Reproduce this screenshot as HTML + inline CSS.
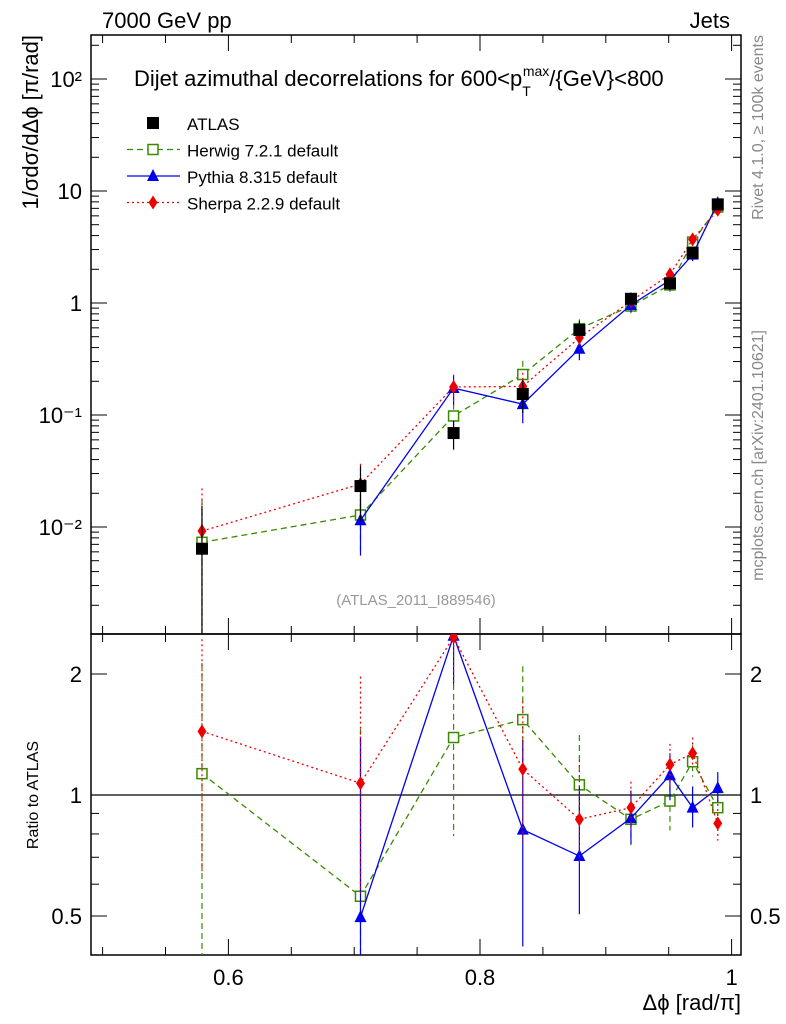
<!DOCTYPE html>
<html><head><meta charset="utf-8"><style>
html,body{margin:0;padding:0;background:#fff;overflow:hidden;width:786px;height:1024px;}
svg{display:block;font-family:"Liberation Sans",sans-serif;}
</style></head><body>
<svg id="c" width="786" height="1024" xmlns="http://www.w3.org/2000/svg"></svg>
<script>
const xs=[0.579,0.705,0.779,0.834,0.879,0.92,0.951,0.969,0.989];
const atlas=[0.0064,0.0232,0.069,0.154,0.574,1.09,1.5,2.8,7.6];
const atlasErr=[0.009,0.012,0.02,0.05,0.12,0.15,0.2,0.35,0.8];
const herwig=[0.0073,0.0128,0.098,0.23,0.59,0.94,1.45,3.5,7.2];
const pythia=[null,0.0115,0.174,0.125,0.39,0.96,1.6,2.7,7.8];
const sherpa=[0.0092,0.0242,0.178,0.18,0.49,1.04,1.8,3.7,6.8];
const herwigRatio=[1.13,0.56,1.39,1.54,1.06,0.87,0.966,1.21,0.93];
const pythiaRatio=[null,0.497,2.49,0.82,0.705,0.876,1.12,0.93,1.04];
const sherpaRatio=[1.44,1.07,2.47,1.16,0.87,0.93,1.19,1.27,0.85];
const ratioErrUp=[1.0,0.9,0.5,0.55,0.35,0.15,0.15,0.12,0.1];
const ratioErrDn=[0.8,0.5,0.6,0.4,0.2,0.12,0.15,0.1,0.08];
const xTicks=[0.6,0.8,1];
const yTicks=[[100,"10²"],[10,"10"],[1,"1"],[0.1,"10⁻¹"],[0.01,"10⁻²"]];
const rTicks=[[0.5,"0.5"],[1,"1"],[2,"2"]];

const svg=document.getElementById('c');
const NS="http://www.w3.org/2000/svg";
const L=91,R=741,T=35,MB=634,RB=955;
function X(v){return 480+(v-0.8)*1258;}
function Y(v){return 303-Math.log10(v)*112;}
function YR(v){return 795-Math.log10(v)*402;}
function mk(tag,attrs,parent){const e=document.createElementNS(NS,tag);for(const k in attrs)e.setAttribute(k,attrs[k]);(parent||svg).appendChild(e);return e;}
function txt(s,x,y,size,anchor,fill,parent){const t=mk('text',{x:x,y:y,'font-size':size,'text-anchor':anchor||'start',fill:fill||'#000'},parent);t.textContent=s;return t;}

const f1=mk('rect',{x:L,y:T,width:R-L,height:MB-T,fill:'none',stroke:'#000','stroke-width':1.5});


const f2=mk('rect',{x:L,y:MB,width:R-L,height:RB-MB,fill:'none',stroke:'#000','stroke-width':1.5});



for(let v=0.5;v<=1.001;v+=0.05){const x=X(v);if(x<L||x>R)continue;const big=Math.abs(v*10-Math.round(v*10))<1e-6&&Math.round(v*10)%2==0;const len=big?16:8;
 for(const [yb,yt] of [[MB,T],[RB,MB]]){mk('line',{x1:x,x2:x,y1:yb,y2:yb-len,stroke:'#000'});mk('line',{x1:x,x2:x,y1:yt,y2:yt+len,stroke:'#000'});}}
xTicks.forEach(v=>{const t=txt(String(v),X(v),985,22,'middle');});
const xt=txt('Δϕ [rad/π]',741,1010,22,'end');



for(let e=-3;e<=2;e++){for(let m=1;m<10;m++){const v=m*Math.pow(10,e);const y=Y(v);if(y<T||y>MB)continue;const len=m==1?16:8;mk('line',{x1:L,x2:L+len,y1:y,y2:y,stroke:'#000'});mk('line',{x1:R,x2:R-len,y1:y,y2:y,stroke:'#000'});}}
yTicks.forEach(([v,s])=>{const t=txt(s,82,Y(v)+8,22,'end');});
const yt=txt('1/σdσ/dΔϕ [π/rad]',0,0,22,'end');
yt.setAttribute('transform','translate(38,35) rotate(-90)');



[0.4,0.5,0.6,0.7,0.8,0.9,1,2].forEach(v=>{const y=YR(v);const big=(v==0.5||v==1||v==2);const len=big?16:8;mk('line',{x1:L,x2:L+len,y1:y,y2:y,stroke:'#000'});mk('line',{x1:R,x2:R-len,y1:y,y2:y,stroke:'#000'});});
rTicks.forEach(([v,s])=>{const t=txt(s,82,YR(v)+8,22,'end');const t2=txt(s,750,YR(v)+8,22,'start');});
const rt=txt('Ratio to ATLAS',0,0,16,'middle');
rt.setAttribute('transform','translate(38,795) rotate(-90)');


const one=mk('line',{x1:L,x2:R,y1:YR(1),y2:YR(1),stroke:'#000','stroke-width':1.2});



let t;
t=txt('7000 GeV pp',102,28,22);
t=txt('Jets',730,28,22,'end');
t=mk('text',{x:134,y:86,'font-size':22});t.innerHTML='Dijet azimuthal decorrelations for 600&lt;p<tspan font-size="14" dy="10">T</tspan><tspan font-size="14" dy="-20" dx="-8">max</tspan><tspan dy="10">/{GeV}&lt;800</tspan>';

t=txt('(ATLAS_2011_I889546)',416,605,15,'middle','#999');
t=txt('Rivet 4.1.0, ≥ 100k events',0,0,16,'end','#888');t.setAttribute('transform','translate(763,35) rotate(-90)');
t=txt('mcplots.cern.ch [arXiv:2401.10621]',0,0,16,'end','#888');t.setAttribute('transform','translate(763,330) rotate(-90)');

const defs=mk('defs',{});
const cp1=mk('clipPath',{id:'cm'},defs);mk('rect',{x:L,y:T,width:R-L,height:MB-T},cp1);
const cp2=mk('clipPath',{id:'cr'},defs);mk('rect',{x:L,y:MB,width:R-L,height:RB-MB},cp2);
const gm=mk('g',{'clip-path':'url(#cm)'});
const gr=mk('g',{'clip-path':'url(#cr)'});

function marker(kind,x,y,color,g){
 if(kind=='sq')return mk('rect',{x:x-5,y:y-5,width:10,height:10,fill:'#fff',stroke:color,'stroke-width':1.5},g);
 if(kind=='tri')return mk('polygon',{points:`${x},${y-7} ${x-6},${y+5} ${x+6},${y+5}`,fill:color},g);
 if(kind=='dia')return mk('polygon',{points:`${x},${y-7} ${x-4.5},${y} ${x},${y+7} ${x+4.5},${y}`,fill:color},g);
 return mk('rect',{x:x-6,y:y-6,width:12,height:12,fill:color},g);
}
const series=[
 {name:'herwig',vals:herwig,ratio:herwigRatio,color:'#3a8a00',dash:'6,4',kind:'sq'},
 {name:'pythia',vals:pythia,ratio:pythiaRatio,color:'#0000ee',dash:'',kind:'tri'},
 {name:'sherpa',vals:sherpa,ratio:sherpaRatio,color:'#ee0000',dash:'2,3',kind:'dia'}];
series.forEach(s=>{
 [[gm,s.vals,Y,false],[gr,s.ratio,YR,true]].forEach(([g,vals,yf,isR])=>{
  const pts=xs.map((x,i)=>vals[i]==null?null:X(x)+','+yf(vals[i])).filter(p=>p).join(' ');
  const pl=mk('polyline',{points:pts,fill:'none',stroke:s.color,'stroke-width':1.3,'stroke-dasharray':s.dash},g);
  
  
  xs.forEach((x,i)=>{
   const v=vals[i];if(v==null)return;
   const up=isR?v+ratioErrUp[i]:v+atlasErr[i]*v/atlas[i];const dn=isR?Math.max(v-ratioErrDn[i],0.01):Math.max(v-atlasErr[i]*v/atlas[i],1e-5);
   const eb=mk('line',{x1:X(x),x2:X(x),y1:yf(up),y2:yf(dn),stroke:s.color,'stroke-width':1.2,'stroke-dasharray':s.dash},g);
   
   
   const m=marker(s.kind,X(x),yf(v),s.color,g);
   
   
  });
 });
});
xs.forEach((x,i)=>{
 const eb=mk('line',{x1:X(x),x2:X(x),y1:Y(atlas[i]+atlasErr[i]),y2:Y(Math.max(atlas[i]-atlasErr[i],1e-5)),stroke:'#000','stroke-width':1.2},gm);
 
 
 const m=marker('atlas',X(x),Y(atlas[i]),'#000',gm);
 
 
});

const lg=mk('g',{});


const leg=[['ATLAS',null],['Herwig 7.2.1 default',series[0]],['Pythia 8.315 default',series[1]],['Sherpa 2.2.9 default',series[2]]];
leg.forEach(([lab,s],i)=>{
 const y=123+i*26.5;
 const g=mk('g',{},lg);
 
 
 if(!s){marker('atlas',153,y,'#000',g);}
 else{mk('line',{x1:127,x2:180,y1:y,y2:y,stroke:s.color,'stroke-width':1.3,'stroke-dasharray':s.dash},g);marker(s.kind,153,y,s.color,g);}
 txt(lab,187,y+7,17,'start','#000',g);
});
</script>
</body></html>
